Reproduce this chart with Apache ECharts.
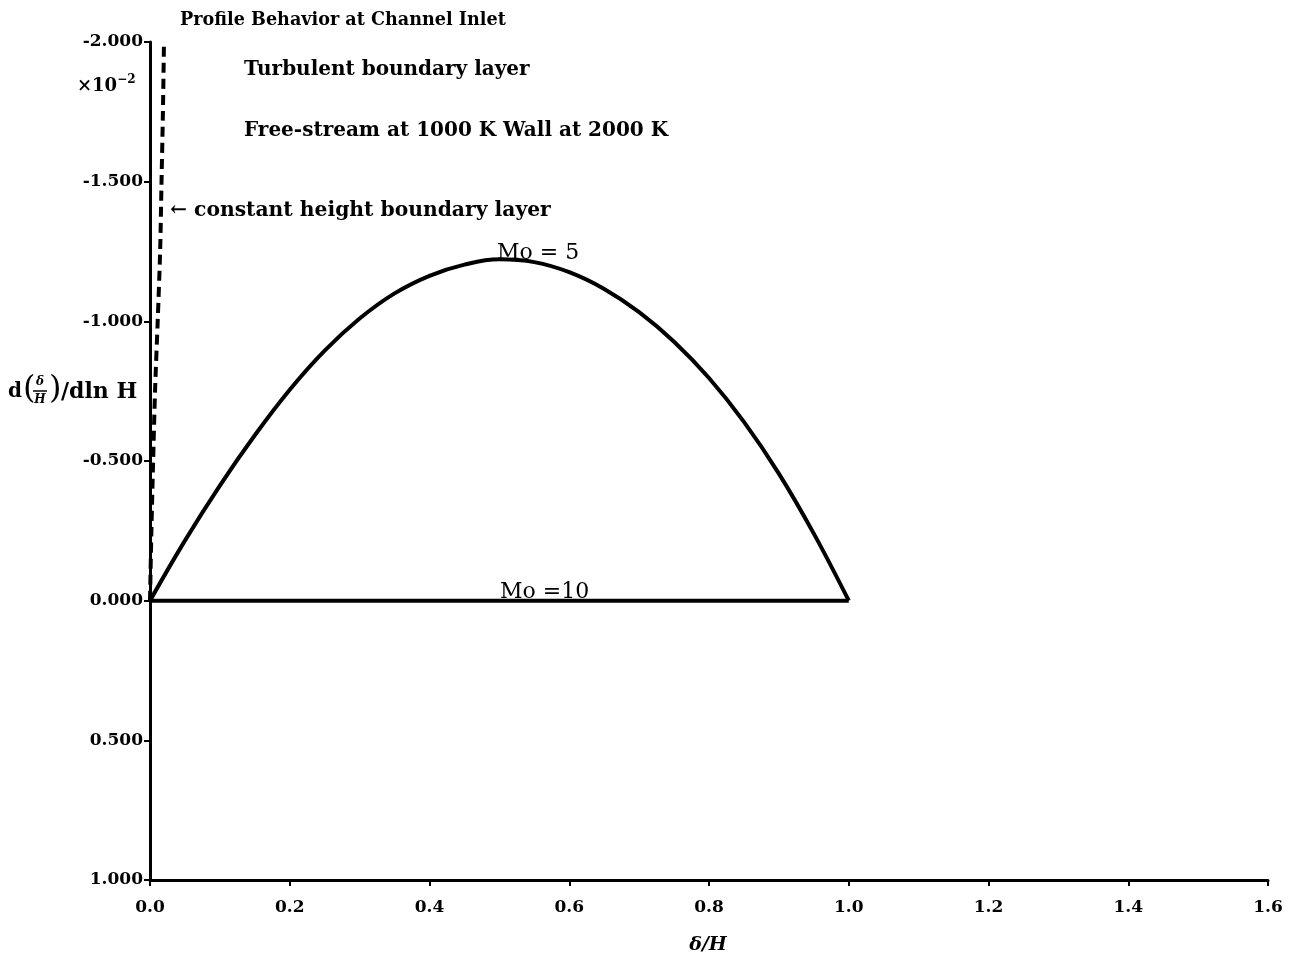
<!DOCTYPE html>
<html>
<head>
<meta charset="utf-8">
<script src="https://cdn.jsdelivr.net/npm/echarts@6/dist/echarts.min.js"></script>
<style>
  html, body { margin: 0; padding: 0; background: #fff; }
  #chart { width: 1290px; height: 963px; }
</style>
</head>
<body>
<div id="chart"></div>
<script>
// δ/H positions and d(δ/H)/dln H values (×10^-2) for the Mo = 5 profile
const mo5X = [0, 0.05, 0.10, 0.15, 0.20, 0.25, 0.30, 0.35, 0.40, 0.45, 0.50,
              0.55, 0.60, 0.65, 0.70, 0.75, 0.80, 0.85, 0.90, 0.95, 1.00];
const mo5Y = [0, -0.215, -0.412, -0.592, -0.755, -0.895, -1.010, -1.100, -1.163, -1.203, -1.222,
              -1.212, -1.176, -1.116, -1.033, -0.927, -0.797, -0.640, -0.455, -0.240, 0];

// Mo = 10 profile: flat along zero
const mo10X = [0, 1.0];
const mo10Y = [0, 0];

// constant height boundary layer reference (dashed)
const constX = [0, 0.002, 0.0045, 0.0072, 0.011, 0.0145, 0.0165, 0.0185, 0.020];
const constY = [0, -0.25, -0.5, -0.75, -1.0, -1.25, -1.5, -1.75, -2.0];

const xTicks = { min: 0, max: 1.6, step: 0.2 };
const yTicks = { min: -2, max: 1, step: 0.5 };

const FONT = '"DejaVu Serif", "Liberation Serif", serif';
const pair = (xs, ys) => xs.map((x, i) => [x, ys[i]]);

const chart = echarts.init(document.getElementById('chart'));

chart.setOption({
  backgroundColor: '#ffffff',
  animation: false,
  grid: { left: 150, top: 42, right: 22, bottom: 83, containLabel: false },
  xAxis: {
    type: 'value',
    min: xTicks.min, max: xTicks.max, interval: xTicks.step,
    axisLine: { onZero: false, lineStyle: { color: '#000', width: 3 } },
    axisTick: { length: 6, lineStyle: { color: '#000', width: 2 } },
    axisLabel: {
      color: '#000', fontFamily: FONT, fontWeight: 'bold', fontSize: 17, margin: 19,
      formatter: v => v.toFixed(1)
    },
    splitLine: { show: false }
  },
  yAxis: {
    type: 'value',
    inverse: true,
    min: yTicks.min, max: yTicks.max, interval: yTicks.step,
    axisLine: { show: true, lineStyle: { color: '#000', width: 3 } },
    axisTick: { show: true, length: 6, lineStyle: { color: '#000', width: 2 } },
    axisLabel: {
      color: '#000', fontFamily: FONT, fontWeight: 'bold', fontSize: 17, margin: 7,
      formatter: v => v.toFixed(3)
    },
    splitLine: { show: false }
  },
  series: [
    {
      type: 'line', name: 'Mo = 5', data: pair(mo5X, mo5Y),
      smooth: 0.4, symbol: 'none',
      lineStyle: { color: '#000', width: 4 }
    },
    {
      type: 'line', name: 'Mo = 10', data: pair(mo10X, mo10Y),
      symbol: 'none',
      lineStyle: { color: '#000', width: 4 }
    },
    {
      type: 'line', name: 'constant height', data: pair(constX, constY),
      smooth: 0.3, symbol: 'none',
      lineStyle: { color: '#000', width: 4, type: [10, 6] }
    }
  ]
});

const txt = (x, y, text, size, extra) => Object.assign({
  type: 'text', x, y,
  style: Object.assign({
    text, fill: '#000', fontFamily: FONT, fontWeight: 'bold', fontSize: size,
    textVerticalAlign: 'middle'
  }, extra || {})
});

chart.setOption({
  graphic: [
    txt(180, 20, 'Profile Behavior at Channel Inlet', 17.6),
    txt(244, 70, 'Turbulent boundary layer', 20),
    txt(244, 131, 'Free-stream at 1000 K Wall at 2000 K', 20),
    txt(170, 211, '\u2190 constant height boundary layer', 20.3),
    txt(497, 253, 'Mo = 5', 22, { fontWeight: 'normal' }),
    txt(500, 592, 'Mo =10', 22, { fontWeight: 'normal' }),
    // exponent of the y axis scale
    {
      type: 'text', x: 77, y: 86,
      style: {
        rich: {
          b: { fontFamily: FONT, fontWeight: 'bold', fontSize: 18, fill: '#000' },
          s: { fontFamily: FONT, fontWeight: 'bold', fontSize: 12, fill: '#000', verticalAlign: 'top', padding: [0, 0, 12, 0] }
        },
        text: '{b|\u00d710}{s|\u22122}',
        textVerticalAlign: 'middle'
      }
    },
    // y axis title: d(δ/H)/dln H
    txt(8, 392, 'd', 20),
    txt(23, 390, '(', 32, { fontWeight: 'normal' }),
    txt(40, 382, '\u03b4', 12, { textAlign: 'center', fontStyle: 'italic' }),
    { type: 'line', shape: { x1: 33, y1: 391, x2: 47, y2: 391 }, style: { stroke: '#000', lineWidth: 1.5 } },
    txt(40, 400, 'H', 12, { textAlign: 'center', fontStyle: 'italic' }),
    txt(49, 390, ')', 32, { fontWeight: 'normal' }),
    txt(61, 392, '/dln H', 22),
    // x axis title
    txt(708, 945, '\u03b4/H', 19, { textAlign: 'center', fontStyle: 'italic' })
  ]
});
</script>
</body>
</html>
